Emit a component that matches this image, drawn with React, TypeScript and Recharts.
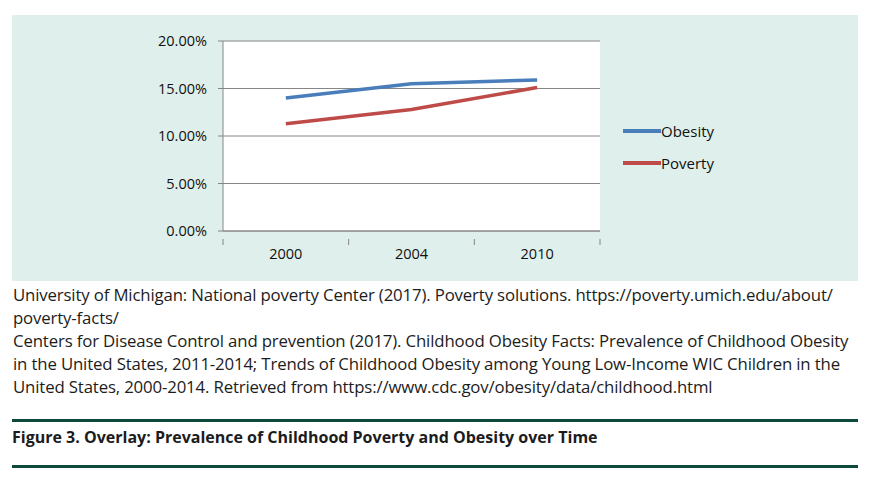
import { LineChart, Line, XAxis, YAxis, CartesianGrid } from 'recharts'

const years = ['2000', '2004', '2010']
const obesity = [14.0, 15.5, 15.9]
const poverty = [11.3, 12.8, 15.1]
const yTicks = [0, 5, 10, 15, 20]

const sourceLines = [
  'University of Michigan: National poverty Center (2017). Poverty solutions. https://poverty.umich.edu/about/',
  'poverty-facts/',
  'Centers for Disease Control and prevention (2017). Childhood Obesity Facts: Prevalence of Childhood Obesity',
  'in the United States, 2011-2014; Trends of Childhood Obesity among Young Low-Income WIC Children in the',
  'United States, 2000-2014. Retrieved from https://www.cdc.gov/obesity/data/childhood.html',
]
const caption = 'Figure 3. Overlay: Prevalence of Childhood Poverty and Obesity over Time'

const data = years.map((year, i) => ({ year, Obesity: obesity[i], Poverty: poverty[i] }))

const BLUE = '#4a7ebb'
const RED = '#be4b48'
const GRID = '#868686'
const GREEN = '#0d4a3b'
const font = "'Open Sans', sans-serif"

const PLOT_W = 377
const BAND = PLOT_W / years.length

function XTick(props: any) {
  const { x, y, payload, index } = props
  const last = index === years.length - 1
  return (
    <g>
      <line x1={x - BAND / 2} y1={y} x2={x - BAND / 2} y2={y + 6} stroke={GRID} />
      {last && <line x1={x + BAND / 2} y1={y} x2={x + BAND / 2} y2={y + 6} stroke={GRID} />}
      <text x={x} y={y + 20} textAnchor="middle" fill="#111" fontSize={14.5} fontFamily={font}>
        {payload.value}
      </text>
    </g>
  )
}

const legendItems = [
  { name: 'Obesity', color: BLUE },
  { name: 'Poverty', color: RED },
]

export default function App() {
  return (
    <div style={{ position: 'absolute', left: 0, top: 0, width: 870, height: 478, background: '#fff' }}>
      <div style={{ position: 'absolute', left: 12, top: 15, width: 846, height: 266, background: '#dfefec' }}>
        <LineChart
          width={846}
          height={266}
          data={data}
          margin={{ top: 26, right: 258, bottom: 0, left: 0 }}
        >
          <CartesianGrid vertical={false} stroke={GRID} strokeWidth={1} fill="#fff" />
          <XAxis
            dataKey="year"
            height={50}
            axisLine={{ stroke: GRID }}
            tickLine={false}
            tick={<XTick />}
            interval={0}
            padding={{ left: BAND / 2, right: BAND / 2 }}
          />
          <YAxis
            width={211}
            domain={[0, 20]}
            ticks={yTicks}
            axisLine={{ stroke: GRID }}
            tickLine={{ stroke: GRID }}
            tickSize={5}
            tickMargin={11}
            tickFormatter={(v: number) => v.toFixed(2) + '%'}
            tick={{ fill: '#111', fontSize: 14.5, fontFamily: font }}
          />
          <Line dataKey="Obesity" stroke={BLUE} strokeWidth={3.5} dot={false} isAnimationActive={false} />
          <Line dataKey="Poverty" stroke={RED} strokeWidth={3.5} dot={false} isAnimationActive={false} />
        </LineChart>
        <div style={{ position: 'absolute', left: 611, top: 100, fontFamily: font, fontSize: 15, color: '#111' }}>
          {legendItems.map((it) => (
            <div key={it.name} style={{ display: 'flex', alignItems: 'center', height: 32 }}>
              <div style={{ width: 38, height: 4, background: it.color }} />
              <span>{it.name}</span>
            </div>
          ))}
        </div>
      </div>
      <div
        style={{
          position: 'absolute',
          left: 13,
          top: 283,
          fontFamily: font,
          fontSize: 16.8,
          lineHeight: '23px',
          letterSpacing: -0.15,
          color: '#1c1c1c',
          whiteSpace: 'nowrap',
        }}
      >
        {sourceLines.map((l) => (
          <div key={l}>{l}</div>
        ))}
      </div>
      <div style={{ position: 'absolute', left: 12, top: 419, width: 846, height: 3, background: GREEN }} />
      <div
        style={{
          position: 'absolute',
          left: 12,
          top: 426,
          fontFamily: font,
          fontWeight: 700,
          fontSize: 16,
          color: '#1c1c1c',
          whiteSpace: 'nowrap',
        }}
      >
        {caption}
      </div>
      <div style={{ position: 'absolute', left: 12, top: 465, width: 846, height: 3, background: GREEN }} />
    </div>
  )
}
